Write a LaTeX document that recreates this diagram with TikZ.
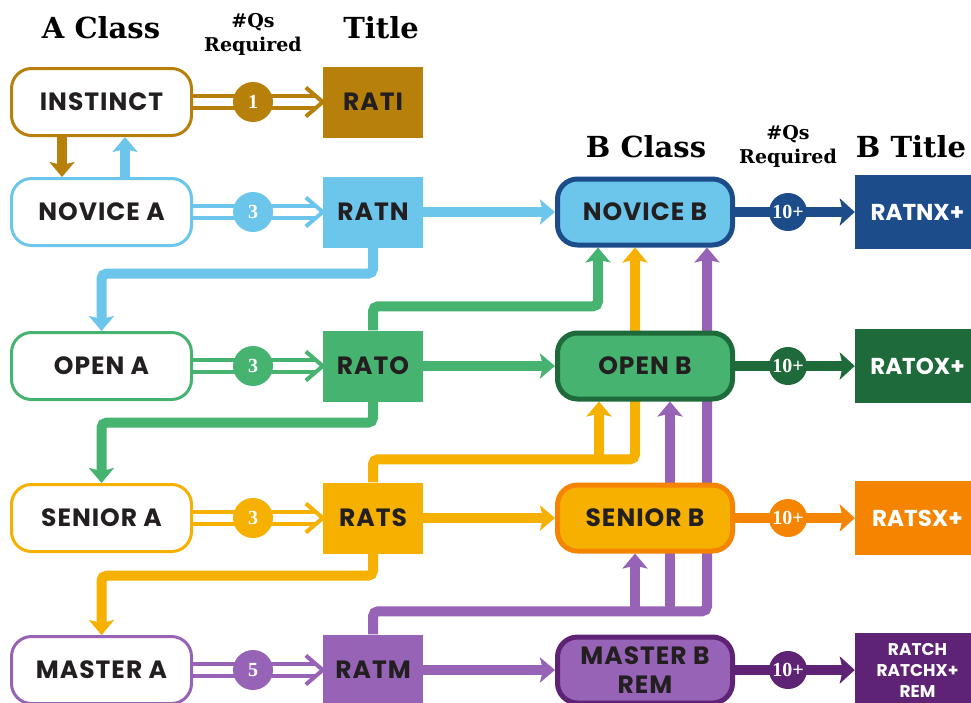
\documentclass[tikz,border=0pt]{standalone}
\usepackage{fontspec}
\setmainfont{DejaVu Serif}
\newfontfamily\boxfont{Poppins}[LetterSpace=4]
\newfontfamily\tboxfont{Poppins}
\newfontfamily\numfont{Liberation Serif}
\usetikzlibrary{arrows.meta,backgrounds}
\definecolor{cBrown}{RGB}{183,128,10}
\definecolor{cBlue}{RGB}{108,197,235}
\definecolor{cGreen}{RGB}{70,180,112}
\definecolor{cYellow}{RGB}{245,176,0}
\definecolor{cPurple}{RGB}{150,99,182}
\definecolor{dBlue}{RGB}{28,76,138}
\definecolor{dGreen}{RGB}{31,106,58}
\definecolor{dOrange}{RGB}{245,132,0}
\definecolor{dPurple}{RGB}{94,35,117}
\definecolor{ink}{RGB}{35,31,32}
\tikzset{
  boxtext/.style={font=\boxfont\bfseries\fontsize{25}{27}\selectfont},
  abox/.style={draw=#1, line width=3pt, rounded corners=20pt, fill=white,
    minimum width=180pt, minimum height=67pt, inner sep=0pt, text=ink, boxtext},
  tbox/.style={fill=#1, minimum width=100pt, minimum height=71pt, inner sep=0pt,
    text=ink, boxtext},
  bbox/.style 2 args={draw=#1, fill=#2, line width=5pt, rounded corners=20pt,
    minimum width=175pt, minimum height=66pt, inner sep=0pt, text=ink, boxtext,
    align=center},
  btitle/.style={fill=#1, minimum width=125pt, minimum height=74pt, inner sep=0pt,
    text=white, font=\tboxfont\bfseries\fontsize{23}{26}\selectfont, align=center},
  qcirc/.style={circle, fill=#1, minimum size=40pt, inner sep=0pt, text=white,
    font=\numfont\bfseries\fontsize{20}{20}\selectfont},
  bcirc/.style={circle, fill=#1, minimum size=38pt, inner sep=0pt, text=white,
    font=\numfont\bfseries\fontsize{20}{20}\selectfont},
  conn/.style={draw=#1, line width=10pt, rounded corners=5pt,
    -{Stealth[length=15pt,width=25pt,inset=3pt]}},
  bconn/.style={draw=#1, line width=10pt, -{Stealth[length=15pt,width=27pt,inset=3pt]}},
  dbl/.style={draw=#1, line width=4pt, double=white, double distance=8pt, shorten >=8pt},
  chev/.style={draw=#1, line width=4pt, line join=miter},
  head/.style={font=\bfseries\fontsize{29}{32}\selectfont, text=black},
  subhead/.style={font=\bfseries\fontsize{19}{24}\selectfont, text=black, align=center},
}
\begin{document}
\begin{tikzpicture}[x=1pt,y=-1pt]
\useasboundingbox (0,0) rectangle (971,702);

% headers
\node[head] (hA) at (101,28) {A Class};
\node[subhead] (hQ1) at (253,34) {\#Qs\\Required};
\node[head] (hT) at (381,28) {Title};
\node[head] (hB) at (646,147) {B Class};
\node[subhead] (hQ2) at (788,146) {\#Qs\\Required};
\node[head] (hBT) at (911,147) {B Title};

% A class boxes
\node[abox=cBrown]  (instinct) at (101.5,102) {INSTINCT};
\node[abox=cBlue]   (novA)     at (101.5,212) {NOVICE A};
\node[abox=cGreen]  (openA)    at (101.5,366) {OPEN A};
\node[abox=cYellow] (seniorA)  at (101.5,518) {SENIOR A};
\node[abox=cPurple] (masterA)  at (101.5,670) {MASTER A};

% titles
\node[tbox=cBrown]  (rati) at (373,102) {RATI};
\node[tbox=cBlue]   (ratn) at (373,212) {RATN};
\node[tbox=cGreen]  (rato) at (373,366) {RATO};
\node[tbox=cYellow] (rats) at (373,518) {RATS};
\node[tbox=cPurple] (ratm) at (373,670) {RATM};

% circles A
\node[qcirc=cBrown]  (q1) at (253,102) {1};
\node[qcirc=cBlue]   (q2) at (253,212) {3};
\node[qcirc=cGreen]  (q3) at (253,366) {3};
\node[qcirc=cYellow] (q4) at (253,518) {3};
\node[qcirc=cPurple] (q5) at (253,670) {5};

% B class boxes
\node[bbox={dBlue}{cBlue}]     (novB)    at (645,212) {NOVICE B};
\node[bbox={dGreen}{cGreen}]   (openB)   at (645,366) {OPEN B};
\node[bbox={dOrange}{cYellow}] (seniorB) at (645,518) {SENIOR B};
\node[bbox={dPurple}{cPurple}] (masterB) at (645,670) {MASTER B\\[2pt]REM};

% B titles
\node[btitle=dBlue]   (ratnx) at (917.5,212) {RATNX+};
\node[btitle=dGreen]  (ratox) at (917.5,366) {RATOX+};
\node[btitle=dOrange] (ratsx) at (917.5,518) {RATSX+};
\node[btitle=dPurple, font=\tboxfont\bfseries\fontsize{17}{21}\selectfont] (ratch) at (917.5,670) {RATCH\\RATCHX+\\REM};

% B circles
\node[bcirc=dBlue]   (b1) at (788,212) {10+};
\node[bcirc=dGreen]  (b2) at (788,366) {10+};
\node[bcirc=dOrange] (b3) at (788,518) {10+};
\node[bcirc=dPurple] (b4) at (788,670) {10+};

\coordinate (x62) at (62,0);
\coordinate (x125) at (125,0);
\coordinate (oj) at (599,458);
\coordinate (pj1) at (635,610);
\coordinate (pj2) at (670,610);

\begin{pgfonlayer}{background}
\fill[white] (0,0) rectangle (971,702);
% double arrows with open chevron heads
\foreach \a/\t/\c in {instinct/rati/cBrown, novA/ratn/cBlue, openA/rato/cGreen,
                      seniorA/rats/cYellow, masterA/ratm/cPurple}{
  \draw[dbl=\c] (\a.east) -- (\t.west);
  \draw[chev=\c] ([shift={(-17,-14.5)}]\t.west) -- (\t.west) -- ([shift={(-17,14.5)}]\t.west);
}
% instinct <-> novice A
\draw[conn=cBrown] (instinct.south -| x62) -- (novA.north -| x62);
\draw[conn=cBlue] (novA.north -| x125) -- (instinct.south -| x125);
% title -> B
\draw[conn=cBlue]   (ratn.east) -- (novB.west);
\draw[conn=cGreen]  (rato.east) -- (openB.west);
\draw[conn=cYellow] (rats.east) -- (seniorB.west);
\draw[conn=cPurple] (ratm.east) -- (masterB.west);
% title -> next A
\draw[conn=cBlue]   (ratn.south) -- ++(0,26) -| (openA.north);
\draw[conn=cGreen]  (rato.south) -- ++(0,21) -| (seniorA.north);
\draw[conn=cYellow] (rats.south) -- ++(0,22) -| (masterA.north);
% upward
\draw[conn=cGreen]  (rato.north) -- ++(0,-24) -| ([xshift=-47pt]novB.south);
\draw[conn=cYellow] (rats.north) -- ++(0,-23) -| ([xshift=-10pt]novB.south);
\draw[conn=cYellow] (oj) -- (openB.south -| oj);
\draw[conn=cPurple] (ratm.north) -- ++(0,-23) -| ([xshift=62pt]novB.south);
\draw[conn=cPurple] (pj1) -- (seniorB.south -| pj1);
\draw[conn=cPurple] (pj2) -- (openB.south -| pj2);
% B -> B title
\draw[bconn=dBlue]   (novB.east) -- (ratnx.west);
\draw[bconn=dGreen]  (openB.east) -- (ratox.west);
\draw[bconn=dOrange] (seniorB.east) -- (ratsx.west);
\draw[bconn=dPurple] (masterB.east) -- (ratch.west);
\end{pgfonlayer}
\end{tikzpicture}
\end{document}
